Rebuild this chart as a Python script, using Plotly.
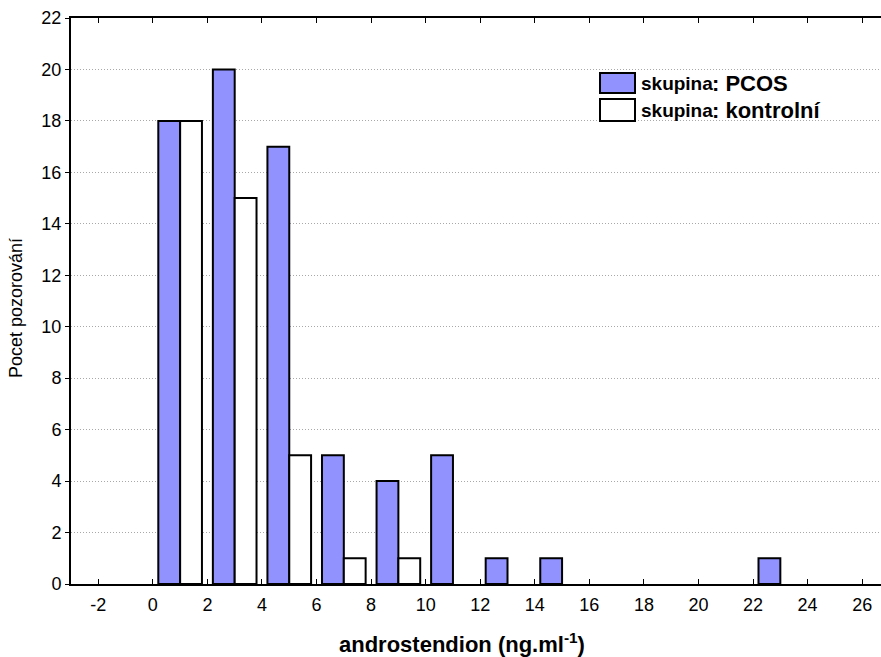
import plotly.graph_objects as go

# Histogram of androstenedione levels, bins of width 2 ng/ml
bin_centers = [1, 3, 5, 7, 9, 11, 13, 15, 17, 19, 21, 23]
pcos_counts = [18, 20, 17, 5, 4, 5, 1, 1, 0, 0, 0, 1]
kontrol_counts = [18, 15, 5, 1, 1, 0, 0, 0, 0, 0, 0, 0]
x_ticks = list(range(-2, 27, 2))
x_tick_text = [str(v) for v in x_ticks]
y_ticks = list(range(0, 23, 2))

PCOS_COLOR = "#9292ff"
KONTROL_COLOR = "#ffffff"
FONT = "Arial, 'Liberation Sans', sans-serif"


def nonzero(values):
    # empty bins get no bar outline
    return [v if v else None for v in values]


fig = go.Figure()
fig.add_trace(go.Bar(x=bin_centers, y=nonzero(pcos_counts), name="PCOS",
                     marker=dict(color=PCOS_COLOR, line=dict(color="black", width=2))))
fig.add_trace(go.Bar(x=bin_centers, y=nonzero(kontrol_counts), name="kontrolní",
                     marker=dict(color=KONTROL_COLOR, line=dict(color="black", width=2))))

# plot area in pixels (for placing the hand-drawn legend)
W, H = 881, 657
L, R, T, B = 71, 0, 18, 73
pw, ph = W - L - R, H - T - B


def px(x):
    return (x - L) / pw


def py(y):
    return (H - B - y) / ph


legend_items = [("PCOS", PCOS_COLOR, 73, 93), ("kontrolní", KONTROL_COLOR, 99, 121)]
for label, color, y0, y1 in legend_items:
    fig.add_shape(type="rect", xref="paper", yref="paper",
                  x0=px(600), x1=px(635), y0=py(y1), y1=py(y0),
                  fillcolor=color, line=dict(color="black", width=2))
    fig.add_annotation(xref="paper", yref="paper", x=px(639), y=py((y0 + y1) / 2 + 0.5),
                       xanchor="left", yanchor="middle", showarrow=False,
                       text="<b>skupina</b>",
                       font=dict(family=FONT, size=19, color="black"))
    fig.add_annotation(xref="paper", yref="paper", x=px(710), y=py((y0 + y1) / 2),
                       xanchor="left", yanchor="middle", showarrow=False,
                       text=f"<b>: {label}</b>",
                       font=dict(family=FONT, size=22, color="black"))

fig.add_annotation(xref="paper", yref="paper", x=px(462), y=py(643),
                   xanchor="center", yanchor="middle", showarrow=False,
                   text="<b>androstendion (ng.ml<sup>-1</sup>)</b>",
                   font=dict(family=FONT, size=22, color="black"))
fig.add_annotation(xref="paper", yref="paper", x=px(16), y=py(308),
                   xanchor="center", yanchor="middle", showarrow=False, textangle=-90,
                   text="Pocet pozorování",
                   font=dict(family=FONT, size=18, color="black"))

fig.update_layout(
    width=W, height=H,
    margin=dict(l=L, r=R, t=T, b=B, pad=0),
    paper_bgcolor="white", plot_bgcolor="white",
    barmode="group", bargap=0.2, bargroupgap=0,
    showlegend=False,
    font=dict(family=FONT, size=18, color="black"),
    xaxis=dict(range=[-3, 26.69], tickvals=x_ticks, ticktext=x_tick_text,
               ticks="inside", ticklen=5, tickcolor="black",
               showline=True, linecolor="black", linewidth=2,
               mirror="ticks", showgrid=False, zeroline=False,
               ticklabelstandoff=3, tickfont=dict(size=18)),
    yaxis=dict(range=[0, 22], tickvals=y_ticks, ticks="outside", ticklen=4,
               tickcolor="black", showline=True, linecolor="black", linewidth=2,
               showgrid=True, gridcolor="#a8a8a8", griddash="1px,2px", gridwidth=1,
               zeroline=False, tickfont=dict(size=18)),
)

fig.write_html("out.html")
